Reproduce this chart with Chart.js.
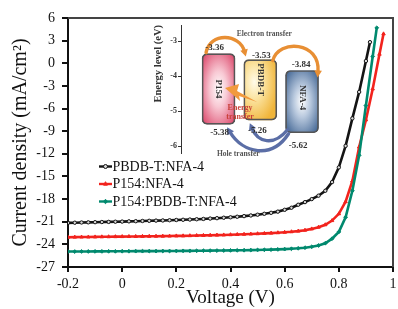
<!DOCTYPE html>
<html><head><meta charset="utf-8">
<script src="https://cdn.jsdelivr.net/npm/chart.js@4.4.1/dist/chart.umd.min.js"></script>
<style>
html,body{margin:0;padding:0;background:#fff;}
#wrap{position:relative;width:398px;height:309px;overflow:hidden;background:#fff;}
canvas{position:absolute;left:0;top:0;}
</style></head><body>
<div id="wrap"><canvas id="main" width="398" height="309"></canvas><canvas id="inset" width="398" height="309"></canvas></div>
<script>
// ---------- data ----------
const seriesNames = ['PBDB-T:NFA-4', 'P154:NFA-4', 'P154:PBDB-T:NFA-4'];
const voltageGrid = [-0.2,-0.175,-0.15,-0.125,-0.1,-0.075,-0.05,-0.025,0,0.025,0.05,0.075,0.1,0.125,0.15,0.175,0.2,0.225,0.25,0.275,0.3,0.325,0.35,0.375,0.4,0.425,0.45,0.475,0.5,0.525,0.55,0.575,0.6,0.625,0.65,0.675,0.7,0.725,0.75,0.775,0.8,0.825,0.85,0.875,0.9];
const voltageBlack = voltageGrid.concat([0.915]);
const currentBlack = [-21.15,-21.13,-21.10,-21.08,-21.06,-21.04,-21.02,-21.00,-20.98,
  -20.95,-20.93,-20.90,-20.88,-20.85,-20.83,-20.80,-20.77,
  -20.74,-20.71,-20.67,-20.63,-20.58,-20.53,-20.47,-20.41,
  -20.34,-20.26,-20.17,-20.07,-19.95,-19.82,-19.66,-19.42,
  -19.15,-18.75,-18.40,-18.00,-17.55,-16.90,-15.75,-13.80,
  -10.95,-7.30,-3.80,0.30, 2.80];
const voltageRed = voltageGrid.concat([0.925, 0.95, 0.965]);
const currentRed = [-23.05,-23.04,-23.03,-23.02,-23.01,-23.00,-22.99,-22.98,-22.97,
  -22.96,-22.95,-22.94,-22.93,-22.92,-22.91,-22.90,-22.88,
  -22.87,-22.85,-22.83,-22.81,-22.79,-22.77,-22.75,-22.72,
  -22.69,-22.66,-22.63,-22.59,-22.55,-22.51,-22.46,-22.40,
  -22.33,-22.24,-22.12,-21.95,-21.72,-21.40,-20.85,-19.95,
  -18.35,-15.60,-11.10,-7.50, -3.40,1.20,3.90];
const voltageTeal = voltageGrid.concat([0.925, 0.94]);
const currentTeal = [-24.95,-24.95,-24.94,-24.94,-24.93,-24.93,-24.92,-24.92,-24.91,
  -24.91,-24.90,-24.90,-24.89,-24.89,-24.88,-24.88,-24.87,
  -24.86,-24.86,-24.85,-24.84,-24.83,-24.82,-24.81,-24.80,
  -24.79,-24.78,-24.76,-24.74,-24.72,-24.70,-24.67,-24.63,
  -24.58,-24.52,-24.44,-24.32,-24.15,-23.85,-23.25,-22.35,
  -20.40,-16.90,-12.20,-5.60, 0.90,4.70];
const xTicks = [-0.2, 0, 0.2, 0.4, 0.6, 0.8, 1];
const xTickLabels = ['-0.2','0','0.2','0.4','0.6','0.8','1'];
const yTicks = [6,3,0,-3,-6,-9,-12,-15,-18,-21,-24,-27];
const yTickLabels = ['6','3','0','-3','-6','-9','-12','-15','-18','-21','-24','-27'];

// inset (energy levels)
const materials = ['P154', 'PBDB-T', 'NFA-4'];
const lumo = [-3.36, -3.53, -3.84];
const homo = [-5.38, -5.26, -5.62];
const energyTicks = [-3, -4, -5, -6];

// ---------- styling ----------
const SERIF = "'Liberation Serif','Times New Roman',serif";
const INK = '#111';
const colors = ['#141414', '#f2231d', '#00896e'];

function pairs(v, j) { return v.map((x, i) => ({x: x, y: j[i]})); }

const frameAndLegend = {
  id: 'frameAndLegend',
  beforeDatasetsDraw(chart) {
    const {ctx, chartArea: a} = chart;
    ctx.save();
    ctx.strokeStyle = '#444'; ctx.lineWidth = 2;
    ctx.beginPath();
    ctx.moveTo(a.left, a.top); ctx.lineTo(a.right, a.top); ctx.lineTo(a.right, a.bottom);
    ctx.stroke();
    ctx.restore();
  },
  afterDatasetsDraw(chart) {
    const ctx = chart.ctx;
    const lx = 99, ly0 = 166.5, dy = 17.5, len = 13;
    chart.data.datasets.forEach((ds, i) => {
      const y = ly0 + i * dy;
      ctx.save();
      ctx.strokeStyle = ds.borderColor; ctx.lineWidth = 2.4;
      ctx.beginPath(); ctx.moveTo(lx, y); ctx.lineTo(lx + len, y); ctx.stroke();
      ctx.fillStyle = ds.pointBackgroundColor; ctx.strokeStyle = ds.pointBorderColor; ctx.lineWidth = ds.pointBorderWidth;
      Chart.helpers.drawPoint(ctx, {pointStyle: ds.pointStyle, radius: ds.pointRadius + 0.3, borderWidth: ds.pointBorderWidth, rotation: 0}, lx + len / 2, y);
      ctx.fillStyle = INK;
      ctx.font = '14px ' + SERIF;
      ctx.textBaseline = 'middle'; ctx.textAlign = 'left';
      ctx.fillText(ds.label, lx + len + 0.5, y + 0.5);
      ctx.restore();
    });
  }
};

const lineStyles = [
  {pointStyle: 'circle', pointRadius: 1.7, pointBackgroundColor: '#d8d8d8', pointBorderColor: colors[0], pointBorderWidth: 1},
  {pointStyle: 'triangle', pointRadius: 2, pointBackgroundColor: colors[1], pointBorderColor: colors[1], pointBorderWidth: 1},
  {pointStyle: 'rectRot', pointRadius: 1.9, pointBackgroundColor: colors[2], pointBorderColor: colors[2], pointBorderWidth: 1}
];
const seriesData = [pairs(voltageBlack, currentBlack), pairs(voltageRed, currentRed), pairs(voltageTeal, currentTeal)];

new Chart(document.getElementById('main'), {
  type: 'line',
  data: {
    datasets: seriesData.map((d, i) => Object.assign({
      label: seriesNames[i], data: d, borderColor: colors[i], borderWidth: 2.6,
      fill: false, tension: 0, order: 2 - i
    }, lineStyles[i]))
  },
  options: {
    responsive: false, animation: false, devicePixelRatio: 1,
    layout: {padding: {top: 18, right: 2, left: 0, bottom: 0}},
    plugins: {legend: {display: false}, tooltip: {enabled: false}},
    scales: {
      x: {
        type: 'linear', min: -0.2, max: 1,
        afterBuildTicks: s => { s.ticks = xTicks.map(v => ({value: v})); },
        afterFit: s => { s.height = 42; s.paddingLeft = 0; s.paddingRight = 0; },
        ticks: {font: {family: SERIF, size: 14}, color: INK, padding: 4, maxRotation: 0, autoSkip: false,
          callback: v => xTickLabels[xTicks.indexOf(v)]},
        grid: {display: true, drawOnChartArea: false, drawTicks: true, tickLength: 5, color: INK, lineWidth: 2},
        border: {display: true, color: INK, width: 2},
        title: {display: true, text: 'Voltage (V)', font: {family: SERIF, size: 19}, color: INK, padding: {top: 0, bottom: 0}}
      },
      y: {
        min: -27, max: 6,
        afterBuildTicks: s => { s.ticks = yTicks.map(v => ({value: v})); },
        afterFit: s => { s.width = 68; s.paddingTop = 0; s.paddingBottom = 0; },
        ticks: {font: {family: SERIF, size: 14}, color: INK, padding: 7, autoSkip: false,
          callback: v => yTickLabels[yTicks.indexOf(v)]},
        grid: {display: true, drawOnChartArea: false, drawTicks: true, tickLength: 6, color: INK, lineWidth: 2},
        border: {display: true, color: INK, width: 2},
        title: {display: true, text: 'Current density (mA/cm\u00B2)', font: {family: SERIF, size: 20}, color: INK, padding: {top: 9, bottom: 0}}
      }
    }
  },
  plugins: [frameAndLegend]
});

// ---------- inset ----------
const boxFills = [
  [[0, '#ffffff'], [0.35, '#f8c9d4'], [1, '#d8355c']],
  [[0, '#fffbea'], [0.4, '#fbe3a0'], [1, '#f0b53a']],
  [[0, '#ffffff'], [0.35, '#b9c9de'], [1, '#2f5688']]
];
const gradShift = [[0, 0], [-6, -8], [0, 0]];

function arrowCurve(ctx, p0, c1, c2, p1, color, w, head) {
  ctx.save();
  ctx.strokeStyle = color; ctx.fillStyle = color; ctx.lineWidth = w; ctx.lineCap = 'round';
  const ang = Math.atan2(p1[1] - c2[1], p1[0] - c2[0]);
  const ex = p1[0] - Math.cos(ang) * head * 0.7, ey = p1[1] - Math.sin(ang) * head * 0.7;
  ctx.beginPath(); ctx.moveTo(p0[0], p0[1]); ctx.bezierCurveTo(c1[0], c1[1], c2[0], c2[1], ex, ey); ctx.stroke();
  ctx.beginPath();
  ctx.moveTo(p1[0], p1[1]);
  ctx.lineTo(p1[0] - Math.cos(ang - 0.5) * head, p1[1] - Math.sin(ang - 0.5) * head);
  ctx.lineTo(p1[0] - Math.cos(ang + 0.5) * head, p1[1] - Math.sin(ang + 0.5) * head);
  ctx.closePath(); ctx.fill();
  ctx.restore();
}

function boxGeom(chart) {
  return chart.getDatasetMeta(0).data.map(el => {
    const p = el.getProps(['x', 'y', 'base', 'width'], true);
    const t = Math.min(p.y, p.base), b = Math.max(p.y, p.base);
    return {cx: p.x, l: p.x - p.width / 2, r: p.x + p.width / 2, t: t, b: b, w: p.width, h: b - t};
  });
}

const insetDecor = {
  id: 'insetDecor',
  beforeDatasetsDraw(chart) {
    const ctx = chart.ctx;
    boxGeom(chart).forEach((g, i) => {
      ctx.save();
      ctx.beginPath(); ctx.roundRect(g.l, g.t, g.w, g.h, 5); ctx.clip();
      ctx.translate(g.cx + gradShift[i][0], g.t + g.h / 2 + gradShift[i][1]);
      ctx.scale(1, g.h / g.w);
      const gr = ctx.createRadialGradient(0, 0, 0, 0, 0, g.w * 0.72);
      boxFills[i].forEach(s => gr.addColorStop(s[0], s[1]));
      ctx.fillStyle = gr;
      ctx.fillRect(-g.w * 2, -g.w * 2, g.w * 4, g.w * 4);
      ctx.restore();
    });
  },
  afterDatasetsDraw(chart) {
    const ctx = chart.ctx;
    const B = boxGeom(chart);
    const a = chart.chartArea;
    ctx.save();
    // names inside boxes
    ctx.fillStyle = '#333'; ctx.font = 'bold 9px ' + SERIF;
    ctx.textAlign = 'center'; ctx.textBaseline = 'middle';
    const nameShift = [0, -10, -4];
    B.forEach((g, i) => {
      ctx.save(); ctx.translate(g.cx, g.t + g.h / 2 + nameShift[i]); ctx.rotate(Math.PI / 2);
      ctx.fillText(materials[i], 0, 0); ctx.restore();
    });
    // lightning bolt (energy transfer)
    const bx = B[0].r - 10, by = 88;
    ctx.fillStyle = '#f19a3e';
    ctx.beginPath();
    ctx.moveTo(bx, by); ctx.lineTo(bx + 14, by - 4); ctx.lineTo(bx + 12, by + 3);
    ctx.lineTo(bx + 32, by + 14); ctx.lineTo(bx + 14, by + 8); ctx.lineTo(bx + 15, by + 13);
    ctx.closePath(); ctx.fill();
    // orange electron-transfer arrows
    const orange = '#e88f34';
    arrowCurve(ctx, [B[0].l + 4, B[0].t - 1], [B[0].l + 8, B[0].t - 22], [B[1].l - 4, B[1].t - 26], [B[1].l + 2, B[1].t - 3], orange, 3.4, 8);
    arrowCurve(ctx, [B[1].r - 4, B[1].t + 1], [B[1].r + 2, B[1].t - 21], [B[2].r + 2, B[2].t - 29], [B[2].r - 1, B[2].t + 7], orange, 3.4, 8);
    // blue hole-transfer arrows
    const blue = '#5b6ea6';
    arrowCurve(ctx, [B[2].l + 3, B[2].b + 1], [B[2].l - 14, B[2].b + 27], [B[0].r + 8, B[0].b + 29], [B[0].r - 8, B[0].b + 3], blue, 3.4, 8);
    arrowCurve(ctx, [B[2].l + 2, B[2].b - 3], [B[2].l - 12, B[2].b + 14], [B[1].l + 14, B[1].b + 22], [B[1].l + 6, B[1].b + 3], blue, 3.4, 8);
    // energy values
    ctx.fillStyle = '#333'; ctx.font = 'bold 9px ' + SERIF;
    const fmt = v => v.toFixed(2);
    ctx.fillText(fmt(lumo[0]), B[0].cx - 4, B[0].t - 6);
    ctx.fillText(fmt(lumo[1]), B[1].cx + 1, B[1].t - 4);
    ctx.fillText(fmt(lumo[2]), B[2].cx - 1, B[2].t - 6);
    ctx.fillText(fmt(homo[0]), B[0].cx + 1, B[0].b + 8);
    ctx.fillText(fmt(homo[1]), B[1].cx - 3, B[1].b + 11);
    ctx.fillText(fmt(homo[2]), B[2].cx - 4, B[2].b + 13);
    // annotations
    ctx.fillStyle = '#555'; ctx.font = 'bold 7.5px ' + SERIF;
    ctx.fillText('Electron transfer', B[1].cx + 4, a.top + 9);
    ctx.fillText('Hole transfer', B[1].cx - 22, a.bottom + 1);
    ctx.fillStyle = '#c8423a'; ctx.font = 'bold 8px ' + SERIF;
    ctx.fillText('Energy', B[0].r + 5, 108);
    ctx.fillText('transfer', B[0].r + 5, 117);
    ctx.restore();
  }
};

new Chart(document.getElementById('inset'), {
  type: 'bar',
  data: {
    datasets: [{
      data: materials.map((m, i) => ({x: i + 1, y: [homo[i], lumo[i]]})),
      backgroundColor: 'rgba(0,0,0,0)', borderColor: '#555', borderWidth: 1,
      borderRadius: 5, borderSkipped: false, barThickness: 33
    }]
  },
  options: {
    responsive: false, animation: false, devicePixelRatio: 1,
    layout: {padding: {left: 148, top: 25, right: 68, bottom: 156}},
    plugins: {legend: {display: false}, tooltip: {enabled: false}},
    scales: {
      x: {type: 'linear', min: 0.1, max: 3.67, display: false, offset: false},
      y: {
        min: -6.2, max: -2.54,
        afterBuildTicks: s => { s.ticks = energyTicks.map(v => ({value: v})); },
        afterFit: s => { s.width = 33; },
        ticks: {font: {family: SERIF, size: 8, weight: 'bold'}, color: '#333', padding: 1, callback: v => String(v)},
        grid: {display: true, drawOnChartArea: false, drawTicks: true, tickLength: 3, color: '#333', lineWidth: 1},
        border: {display: true, color: '#333', width: 1},
        title: {display: true, text: 'Energy level (eV)', align: 'end', font: {family: SERIF, size: 10.5, weight: 'bold'}, color: '#333', padding: {top: 4, bottom: 0}}
      }
    }
  },
  plugins: [insetDecor]
});
</script></body></html>
